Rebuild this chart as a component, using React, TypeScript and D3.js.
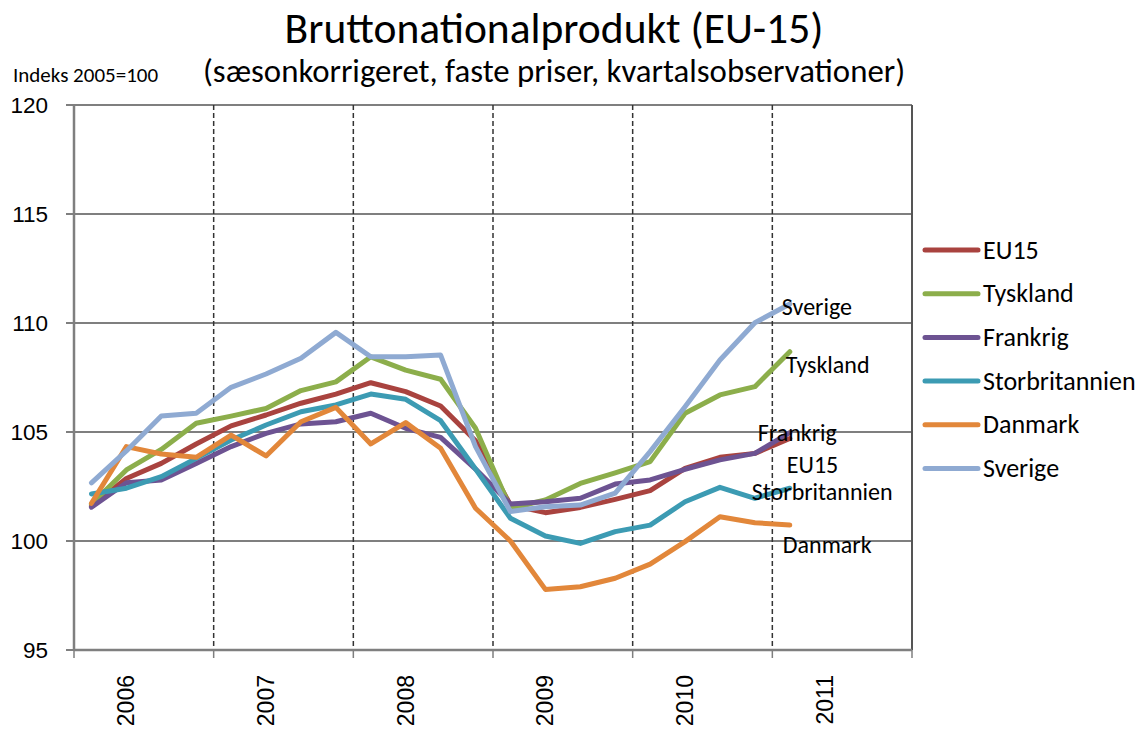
import React from "react";
import * as d3 from "d3";

const years = ["2006", "2007", "2008", "2009", "2010", "2011"];
const quarters = years.flatMap((y) => ["K1", "K2", "K3", "K4"].map((q) => y + q));

const seriesNames = ["EU15", "Tyskland", "Frankrig", "Storbritannien", "Danmark", "Sverige"];

const eu15 = [101.6, 102.87, 103.56, 104.45, 105.28, 105.78, 106.32, 106.74, 107.26, 106.85, 106.19, 104.6, 101.65, 101.3, 101.54, 101.91, 102.31, 103.33, 103.84, 104.02, 104.7];
const tyskland = [101.7, 103.26, 104.2, 105.4, 105.73, 106.08, 106.9, 107.3, 108.45, 107.84, 107.42, 105.17, 101.5, 101.88, 102.64, 103.13, 103.64, 105.86, 106.7, 107.08, 108.68];
const frankrig = [101.55, 102.67, 102.8, 103.56, 104.33, 104.94, 105.37, 105.47, 105.86, 105.17, 104.75, 103.3, 101.7, 101.8, 101.96, 102.61, 102.8, 103.29, 103.72, 104.02, 104.97];
const storbritannien = [102.16, 102.42, 102.95, 103.79, 104.63, 105.32, 105.93, 106.24, 106.74, 106.5, 105.52, 103.3, 101.04, 100.23, 99.89, 100.43, 100.73, 101.8, 102.46, 101.96, 102.42];
const danmark = [101.73, 104.33, 103.99, 103.84, 104.86, 103.9, 105.47, 106.13, 104.45, 105.43, 104.25, 101.5, 100.0, 97.78, 97.9, 98.29, 98.94, 99.97, 101.11, 100.84, 100.73];
const sverige = [102.67, 104.13, 105.73, 105.86, 107.05, 107.66, 108.38, 109.57, 108.45, 108.45, 108.53, 104.33, 101.35, 101.57, 101.65, 102.2, 104.1, 106.16, 108.3, 110.01, 110.87];

const yTicks = [95, 100, 105, 110, 115, 120];

const seriesValues = [eu15, tyskland, frankrig, storbritannien, danmark, sverige];
const colors = ["#A9433F", "#8CAE4B", "#6D5392", "#3C9BB3", "#E2873A", "#8FAAD2"];

// label placement relative to the last point (dx to text start, dy to text centre)
const labelOffsets: Record<string, [number, number]> = {
  EU15: [-3, 26],
  Tyskland: [-4, 13],
  Frankrig: [-32, 0],
  Storbritannien: [-38, 4],
  Danmark: [-7, 20],
  Sverige: [-8, 3],
};

const calibri = "Carlito, Calibri, 'Liberation Sans Narrow', Lato, sans-serif";
const arial = "'Liberation Sans', Arial, sans-serif";

export default function App() {
  const W = 1143;
  const H = 729;
  const left = 74, right = 912, top = 105, bottom = 650;

  const x = d3.scaleBand<string>().domain(quarters).range([left, right]).paddingInner(0).paddingOuter(0);
  const bw = x.bandwidth();
  const cx = (i: number) => (x(quarters[i]) as number) + bw / 2;
  const y = d3.scaleLinear().domain([95, 120]).range([bottom, top]);

  const line = d3
    .line<number>()
    .x((_, i) => cx(i))
    .y((d) => y(d));

  const legendY = d3.scalePoint<string>().domain(seriesNames).range([250, 468.5]);

  return (
    <svg width={W} height={H} style={{ position: "absolute", left: 0, top: 0, background: "#fff" }}>
      <rect x={0} y={0} width={W} height={H} fill="#fff" />
      {/* title */}
      <text x={554} y={43} textAnchor="middle" fontFamily={calibri} fontSize={43.5} fill="#000">
        Bruttonationalprodukt (EU-15)
      </text>
      <text x={554} y={82} textAnchor="middle" fontFamily={calibri} fontSize={32.8} fill="#000">
        (sæsonkorrigeret, faste priser, kvartalsobservationer)
      </text>
      <text x={13} y={82} fontFamily={calibri} fontSize={21} fill="#000">
        Indeks 2005=100
      </text>

      {/* horizontal gridlines */}
      {yTicks.map((t) => (
        <g key={t}>
          <line x1={66} x2={right} y1={y(t)} y2={y(t)} stroke="#7f7f7f" strokeWidth={2} />
          <text x={48} y={y(t) + 8} textAnchor="end" fontFamily={arial} fontSize={22.5} fill="#000">
            {t}
          </text>
        </g>
      ))}

      {/* vertical dashed year lines */}
      {years.slice(1).map((yr) => (
        <line
          key={yr}
          x1={x(yr + "K1") as number}
          x2={x(yr + "K1") as number}
          y1={top}
          y2={bottom}
          stroke="#333"
          strokeWidth={1.5}
          strokeDasharray="5,3"
        />
      ))}
      {/* x ticks */}
      {years.map((yr) => (
        <line key={"t" + yr} x1={x(yr + "K1") as number} x2={x(yr + "K1") as number} y1={bottom} y2={bottom + 8} stroke="#7f7f7f" strokeWidth={1.5} />
      ))}
      <line x1={right} x2={right} y1={bottom} y2={bottom + 8} stroke="#7f7f7f" strokeWidth={1.5} />

      {/* axes / frame */}
      <line x1={left} x2={left} y1={top} y2={bottom} stroke="#7f7f7f" strokeWidth={2.5} />
      <line x1={right} x2={right} y1={top} y2={bottom} stroke="#555" strokeWidth={2} />
      <line x1={left} x2={right} y1={bottom} y2={bottom} stroke="#7f7f7f" strokeWidth={2.5} />

      {/* year labels */}
      {years.map((yr) => {
        const px = cx(quarters.indexOf(yr + "K2"));
        return (
          <text
            key={"l" + yr}
            transform={`translate(${px + 8},${675}) rotate(-90)`}
            textAnchor="end"
            fontFamily={arial}
            fontSize={23}
            fill="#000"
          >
            {yr}
          </text>
        );
      })}

      {/* series */}
      {seriesValues.map((vals, si) => (
        <path
          key={seriesNames[si]}
          d={line(vals) as string}
          fill="none"
          stroke={colors[si]}
          strokeWidth={5}
          strokeLinejoin="round"
          strokeLinecap="round"
        />
      ))}

      {/* end labels */}
      {seriesValues.map((vals, si) => {
        const n = vals.length - 1;
        const [dx, dy] = labelOffsets[seriesNames[si]];
        return (
          <text
            key={"e" + si}
            x={cx(n) + dx}
            y={y(vals[n]) + dy + 8}
            fontFamily={calibri}
            fontSize={24}
            fill="#000"
          >
            {seriesNames[si]}
          </text>
        );
      })}

      {/* legend */}
      {seriesNames.map((name, si) => {
        const ly = legendY(name) as number;
        return (
          <g key={"lg" + name}>
            <line x1={925} x2={978} y1={ly} y2={ly} stroke={colors[si]} strokeWidth={5} strokeLinecap="round" />
            <text x={983} y={ly + 8.5} fontFamily={calibri} fontSize={26} fill="#000">
              {name}
            </text>
          </g>
        );
      })}
    </svg>
  );
}
